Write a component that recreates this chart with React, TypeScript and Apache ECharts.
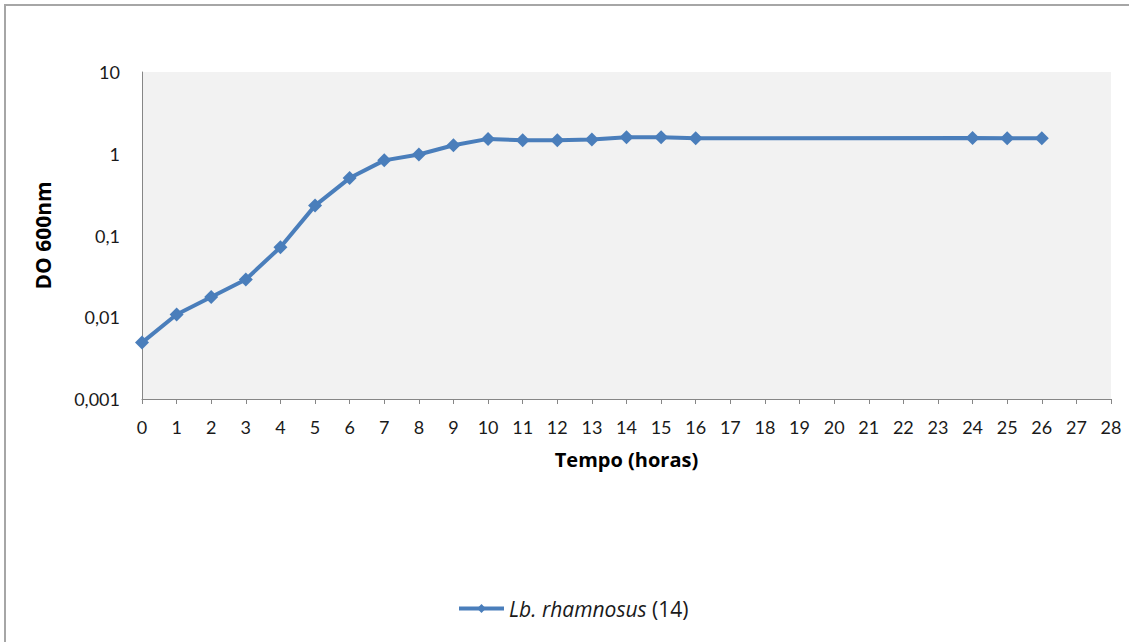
import React, { useEffect, useRef } from "react";
import * as echarts from "echarts";

const hours = [0, 1, 2, 3, 4, 5, 6, 7, 8, 9, 10, 11, 12, 13, 14, 15, 16, 24, 25, 26];
const od600 = [0.0049, 0.0108, 0.0177, 0.029, 0.072, 0.232, 0.504, 0.83, 0.98, 1.27, 1.52, 1.46, 1.46, 1.49, 1.59, 1.59, 1.55, 1.56, 1.55, 1.55];
const seriesName = "Lb. rhamnosus (14)";
const legendItalic = "Lb. rhamnosus";
const legendPlain = "(14)";
const xTitle = "Tempo (horas)";
const yTitle = "DO 600nm";

const TICK_FONT = "Lato, 'Open Sans', sans-serif";
const TITLE_FONT = "'Open Sans', Lato, sans-serif";

export default function App() {
  const ref = useRef<HTMLDivElement>(null);
  useEffect(() => {
    if (!ref.current) return;
    const chart = echarts.init(ref.current, null, { renderer: "svg" });
    chart.setOption({
      animation: false,
      backgroundColor: "#ffffff",
      textStyle: { fontFamily: TICK_FONT },
      graphic: [
        {
          type: "rect",
          shape: { x: 5, y: 5, width: 1200, height: 700 },
          style: { fill: "none", stroke: "#a6a6a6", lineWidth: 2 },
          silent: true,
        },
      ],
      grid: {
        left: 142,
        right: 18,
        top: 72,
        bottom: 243,
        show: true,
        backgroundColor: "#f2f2f2",
        borderWidth: 0,
      },
      legend: {
        top: 598,
        left: 457,
        padding: 0,
        itemWidth: 45,
        itemHeight: 11,
        data: [seriesName],
        lineStyle: { width: 4 },
        formatter: () => `{i|${legendItalic}} {n|${legendPlain}}`,
        textStyle: {
          fontFamily: TITLE_FONT,
          fontSize: 21,
          color: "#1a1a1a",
          rich: {
            i: { fontStyle: "italic", fontSize: 21, fontFamily: TITLE_FONT, color: "#1a1a1a" },
            n: { fontSize: 21, fontFamily: TITLE_FONT, color: "#1a1a1a" },
          },
        },
      },
      xAxis: {
        type: "value",
        min: 0,
        max: 28,
        interval: 1,
        name: xTitle,
        nameLocation: "middle",
        nameGap: 50,
        nameTextStyle: { fontFamily: TITLE_FONT, fontWeight: "bold", fontSize: 20, color: "#000" },
        axisLine: { show: true, lineStyle: { color: "#868686", width: 1 } },
        axisTick: { show: true, length: 5, lineStyle: { color: "#868686" } },
        axisLabel: { margin: 19, fontSize: 18, color: "#1a1a1a", fontFamily: TICK_FONT },
        splitLine: { show: false },
      },
      yAxis: {
        type: "log",
        logBase: 10,
        min: 0.001,
        max: 10,
        name: yTitle,
        nameLocation: "middle",
        nameGap: 89,
        nameRotate: 90,
        nameTextStyle: { fontFamily: TITLE_FONT, fontWeight: "bold", fontSize: 21, color: "#000" },
        axisLine: { show: true, lineStyle: { color: "#868686", width: 1 } },
        axisTick: { show: false },
        axisLabel: {
          margin: 22,
          fontSize: 18,
          color: "#1a1a1a",
          fontFamily: TICK_FONT,
          formatter: (v: number) => String(Number(v.toPrecision(1))).replace(".", ","),
        },
        splitLine: { show: false },
      },
      series: [
        {
          name: seriesName,
          type: "line",
          data: hours.map((h, i) => [h, od600[i]]),
          symbol: "diamond",
          symbolSize: [14, 14],
          lineStyle: { color: "#4a7ebb", width: 4 },
          itemStyle: { color: "#4a7ebb" },
        },
      ],
    });
    return () => chart.dispose();
  }, []);
  return (
    <div
      ref={ref}
      style={{ position: "absolute", left: 0, top: 0, width: 1129, height: 642 }}
    />
  );
}
